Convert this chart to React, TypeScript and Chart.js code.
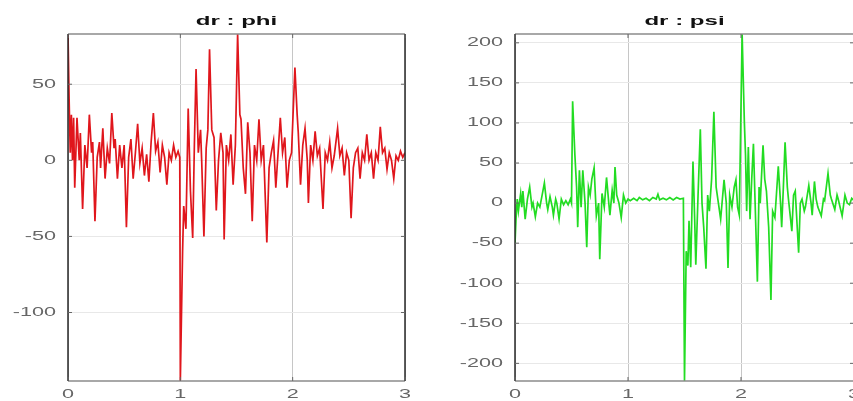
import React, { useEffect, useRef } from "react";
import { Chart, registerables } from "chart.js";
Chart.register(...registerables);

// ---- data ----
const phiT = [
  0, 0.01, 0.02, 0.03, 0.04, 0.05, 0.06, 0.08, 0.1, 0.11, 0.13, 0.15, 0.17, 0.19, 0.21, 0.22, 0.24, 0.26, 0.28, 0.29,
  0.31, 0.33, 0.35, 0.37, 0.39, 0.41, 0.42, 0.44, 0.46, 0.48, 0.5, 0.52, 0.54, 0.56, 0.58, 0.6, 0.62, 0.64, 0.66, 0.68,
  0.7, 0.72, 0.74, 0.76, 0.78, 0.8, 0.82, 0.84, 0.86, 0.88, 0.9, 0.92, 0.94, 0.96, 0.98, 0.995, 1.0, 1.02, 1.03, 1.05,
  1.07, 1.09, 1.11, 1.125, 1.14, 1.16, 1.18, 1.19, 1.21, 1.23, 1.245, 1.26, 1.28, 1.3, 1.32, 1.34, 1.36, 1.38, 1.39, 1.41,
  1.43, 1.45, 1.47, 1.49, 1.51, 1.53, 1.54, 1.56, 1.58, 1.6, 1.62, 1.64, 1.66, 1.68, 1.7, 1.72, 1.74, 1.77, 1.79, 1.81,
  1.83, 1.85, 1.87, 1.89, 1.91, 1.93, 1.95, 1.97, 1.99, 2.02, 2.04, 2.05, 2.07, 2.09, 2.11, 2.13, 2.14, 2.16, 2.18, 2.2,
  2.22, 2.24, 2.27, 2.29, 2.31, 2.33, 2.35, 2.37, 2.4, 2.42, 2.44, 2.46, 2.48, 2.5, 2.52, 2.54, 2.56, 2.58, 2.6, 2.62,
  2.64, 2.66, 2.68, 2.7, 2.72, 2.74, 2.76, 2.78, 2.8, 2.82, 2.84, 2.86, 2.88, 2.9, 2.92, 2.94, 2.96, 2.98, 3.0,
];
const phiValues = [
  83, 40, 5, 30, 0, 28, -18, 28, 0, 18, -32, 10, -5, 30, 5, 12, -40, 2, 12, -5,
  21, -12, 8, -2, 31, 8, 14, -12, 10, -5, 10, -44, 2, 14, -12, 5, 24, -2, 8, -10,
  4, -14, 12, 31, 6, 12, -8, 10, 2, -16, 5, 0, 10, 2, 6, 2, -145, -60, -30, -45,
  34, -20, -51, 10, 60, 5, 20, 0, -50, 8, 20, 73, 20, 15, -33, 0, 18, 5, -52, 10,
  0, 17, -16, 10, 83, 30, 27, -5, -22, 25, 5, -40, 10, 0, 27, 0, 10, -54, -5, 5,
  13, -18, 5, 28, 5, 15, -18, 0, 5, 61, 30, 18, -16, 10, 21, 0, -28, 10, 0, 19,
  3, 8, -32, 5, 0, 12, -5, 3, 21, 3, 8, -10, 5, 0, -38, -5, 5, 8, -12, 5,
  0, 17, 0, 5, -12, 5, 0, 22, 5, 8, -6, 5, 0, -12, 3, 0, 6, 2, 5,
];

const psiT = [
  0, 0.01, 0.02, 0.03, 0.05, 0.06, 0.07, 0.09, 0.11, 0.13, 0.15, 0.16, 0.18, 0.2, 0.22, 0.24, 0.26, 0.28, 0.29, 0.31,
  0.33, 0.34, 0.36, 0.37, 0.39, 0.41, 0.43, 0.45, 0.47, 0.49, 0.5, 0.51, 0.53, 0.545, 0.555, 0.57, 0.585, 0.6, 0.62, 0.635,
  0.65, 0.665, 0.68, 0.7, 0.72, 0.74, 0.75, 0.77, 0.79, 0.81, 0.83, 0.84, 0.86, 0.875, 0.885, 0.9, 0.92, 0.94, 0.96, 0.98,
  1.0, 1.02, 1.05, 1.08, 1.1, 1.13, 1.16, 1.19, 1.22, 1.25, 1.265, 1.28, 1.31, 1.34, 1.37, 1.4, 1.43, 1.46, 1.49, 1.5,
  1.515, 1.53, 1.54, 1.555, 1.575, 1.59, 1.6, 1.62, 1.64, 1.655, 1.67, 1.69, 1.705, 1.72, 1.74, 1.76, 1.78, 1.8, 1.82, 1.85,
  1.87, 1.885, 1.9, 1.92, 1.94, 1.955, 1.97, 1.985, 2.01, 2.03, 2.04, 2.05, 2.065, 2.08, 2.095, 2.11, 2.125, 2.145, 2.16, 2.17,
  2.195, 2.21, 2.225, 2.245, 2.265, 2.28, 2.3, 2.33, 2.35, 2.36, 2.375, 2.39, 2.41, 2.42, 2.45, 2.465, 2.48, 2.51, 2.525, 2.54,
  2.56, 2.57, 2.6, 2.62, 2.63, 2.65, 2.665, 2.68, 2.71, 2.73, 2.74, 2.77, 2.79, 2.8, 2.83, 2.85, 2.86, 2.895, 2.92, 2.94,
  2.96, 2.98, 3.0,
];
const psiValues = [
  -50, -17, 5, -10, 12, -5, 15, -20, 5, 20, -5, 0, -17, 0, -5, 10, 25, 0, -8, 8,
  -5, -15, 5, 0, -20, 5, -2, 3, -2, 5, 0, 127, 60, 20, -30, 41, -5, 41, 0, -55,
  20, 10, 30, 44, -16, 0, -70, 12, -5, 32, 0, -15, 16, 0, 45, 10, 0, -18, 10, 0,
  5, 3, 6, 3, 7, 4, 6, 3, 7, 5, 11, 4, 6, 4, 7, 4, 7, 5, 6, -222,
  -60, -78, -22, -80, 52, -20, -77, 10, 92, 0, -30, -82, 10, -10, 30, 114, 20, 0, -20, 29,
  0, -81, 10, -5, 20, 29, -5, -15, 211, 100, 60, -10, 70, -20, 30, 74, 0, -98, 20, 0,
  72, 30, 15, -30, -121, -10, -18, 46, 0, -30, 20, 76, 20, 5, -35, 10, 15, -62, 0, 5,
  -10, -5, 22, 0, -15, 27, 5, -5, -16, 5, 3, 37, 10, 5, -8, 10, 5, -16, 10, 0,
  -2, 6, 3,
];

const xTicks = [0, 1, 2, 3];
const phiYTicks = [-100, -50, 0, 50];
const psiYTicks = [-200, -150, -100, -50, 0, 50, 100, 150, 200];

const FONT = '"Liberation Sans", Arial, sans-serif';
const SX = 1.8;

const framePlugin = {
  id: "octaveFrame",
  afterDraw(chart: any) {
    const { ctx, chartArea: a } = chart;
    const xs = chart.scales.x;
    const ys = chart.scales.y;
    ctx.save();
    // box
    ctx.lineWidth = 1.5;
    ctx.strokeStyle = "#8c8c8c";
    ctx.beginPath();
    ctx.moveTo(a.left, a.top);
    ctx.lineTo(a.right, a.top);
    ctx.moveTo(a.left, a.bottom);
    ctx.lineTo(a.right, a.bottom);
    ctx.stroke();
    ctx.strokeStyle = "#2a2a2a";
    ctx.beginPath();
    ctx.moveTo(a.left, a.top);
    ctx.lineTo(a.left, a.bottom);
    ctx.moveTo(a.right, a.top);
    ctx.lineTo(a.right, a.bottom);
    ctx.stroke();
    // inward tick marks
    ctx.lineWidth = 1;
    ctx.strokeStyle = "#666";
    ctx.beginPath();
    xs.ticks.forEach((t: any) => {
      const px = xs.getPixelForValue(t.value);
      ctx.moveTo(px, a.bottom);
      ctx.lineTo(px, a.bottom - 4);
      ctx.moveTo(px, a.top);
      ctx.lineTo(px, a.top + 4);
    });
    ys.ticks.forEach((t: any) => {
      const py = ys.getPixelForValue(t.value);
      ctx.moveTo(a.left, py);
      ctx.lineTo(a.left + 4, py);
      ctx.moveTo(a.right, py);
      ctx.lineTo(a.right - 4, py);
    });
    ctx.stroke();
    // tick labels
    ctx.fillStyle = "#666";
    ctx.font = `12px ${FONT}`;
    ctx.textBaseline = "middle";
    xs.ticks.forEach((t: any) => {
      const px = xs.getPixelForValue(t.value);
      ctx.save();
      ctx.translate(px, a.bottom + 14);
      ctx.scale(SX, 1);
      ctx.textAlign = "center";
      ctx.fillText(String(t.value), 0, 0);
      ctx.restore();
    });
    ys.ticks.forEach((t: any) => {
      const py = ys.getPixelForValue(t.value);
      ctx.save();
      ctx.translate(a.left - 12, py);
      ctx.scale(SX, 1);
      ctx.textAlign = "right";
      ctx.fillText(String(t.value), 0, 0);
      ctx.restore();
    });
    // title
    const title = chart.options.plugins.octaveFrame.title;
    ctx.save();
    ctx.fillStyle = "#111";
    ctx.font = `bold 13px ${FONT}`;
    ctx.translate((a.left + a.right) / 2, 21);
    ctx.scale(1.85, 1);
    ctx.textAlign = "center";
    ctx.fillText(title, 0, 0);
    ctx.restore();
    ctx.restore();
  },
};

function buildConfig(
  t: number[],
  v: number[],
  yTicks: number[],
  yMin: number,
  yMax: number,
  color: string,
  title: string,
  yWidth: number,
  padRight: number
): any {
  return {
    type: "line",
    data: {
      datasets: [
        {
          data: t.map((x, i) => ({ x, y: v[i] })),
          borderColor: color,
          borderWidth: 1.7,
          pointRadius: 0,
          tension: 0,
          fill: false,
        },
      ],
    },
    options: {
      animation: false,
      responsive: false,
      devicePixelRatio: 1,
      layout: { padding: { left: 0, right: padRight, top: 34, bottom: 0 } },
      plugins: {
        legend: { display: false },
        tooltip: { enabled: false },
        title: { display: false },
        octaveFrame: { title },
      },
      scales: {
        x: {
          type: "linear",
          min: 0,
          max: 3,
          afterBuildTicks: (s: any) => {
            s.ticks = xTicks.map((value) => ({ value }));
          },
          afterFit: (s: any) => {
            s.height = 20;
          },
          ticks: { display: false },
          grid: { color: "#c6c6c6", lineWidth: 1, drawTicks: false },
          border: { display: false },
        },
        y: {
          type: "linear",
          min: yMin,
          max: yMax,
          afterBuildTicks: (s: any) => {
            s.ticks = yTicks.map((value) => ({ value }));
          },
          afterFit: (s: any) => {
            s.width = yWidth;
          },
          ticks: { display: false },
          grid: { color: "#e8e8e8", lineWidth: 1, drawTicks: false },
          border: { display: false },
        },
      },
    },
    plugins: [framePlugin],
  };
}

export default function App() {
  const leftRef = useRef<HTMLCanvasElement>(null);
  const rightRef = useRef<HTMLCanvasElement>(null);

  useEffect(() => {
    const c1 = new Chart(
      leftRef.current as HTMLCanvasElement,
      buildConfig(phiT, phiValues, phiYTicks, -145, 83, "#e0161c", "dr : phi", 68, 25)
    );
    const c2 = new Chart(
      rightRef.current as HTMLCanvasElement,
      buildConfig(psiT, psiValues, psiYTicks, -222, 211, "#22dc22", "dr : psi", 85, 6)
    );
    return () => {
      c1.destroy();
      c2.destroy();
    };
  }, []);

  return (
    <div
      style={{
        position: "absolute",
        left: 0,
        top: 0,
        width: 853,
        height: 401,
        overflow: "hidden",
        background: "#fff",
      }}
    >
      <canvas ref={leftRef} width={430} height={401} style={{ position: "absolute", left: 0, top: 0 }} />
      <canvas ref={rightRef} width={430} height={401} style={{ position: "absolute", left: 430, top: 0 }} />
    </div>
  );
}
